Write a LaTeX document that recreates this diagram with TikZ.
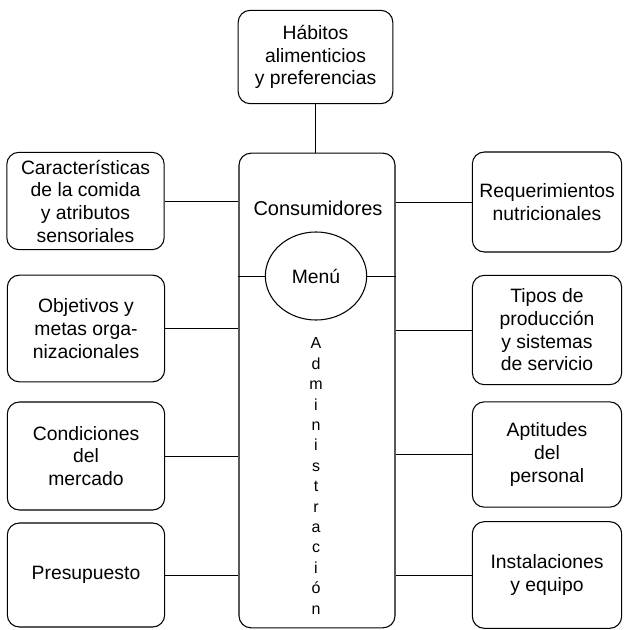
\documentclass[tikz,border=0pt]{standalone}
\usepackage{fontspec}
\setmainfont{Liberation Sans}
\usetikzlibrary{shapes.geometric}

\tikzset{
    caja/.style = {draw, rounded corners=9pt, line width=0.8pt, align=center,
                   inner sep=2pt, font=\fontsize{14.5}{17}\selectfont},
    enlace/.style = {draw, line width=0.7pt}
}

\begin{document}
\begin{tikzpicture}[x=0.75pt,y=-0.75pt]
\useasboundingbox (0,0) rectangle (624,630);

% centro
\node[caja, minimum width=117pt, minimum height=356pt] (admin) at (317,390.5) {};
\node[font=\fontsize{15}{17}\selectfont] (consum) at (318,208) {Consumidores};
\node[draw, ellipse, line width=0.8pt, minimum width=76pt, minimum height=66pt,
      font=\fontsize{14.5}{17}\selectfont] (menu) at (316,276) {Menú};
\node[align=center, font=\fontsize{12}{15.3}\selectfont] (letras) at (316,476)
    {A\\d\\m\\i\\n\\i\\s\\t\\r\\a\\c\\i\\ó\\n};

% arriba
\node[caja, minimum width=116pt, minimum height=70pt] (habitos) at (315.5,57)
    {Hábitos\\alimenticios\\y preferencias};

% izquierda
\node[caja, minimum width=118pt, minimum height=73pt] (caract) at (85.5,201)
    {Características\\de la comida\\y atributos\\sensoriales};
\node[caja, minimum width=118pt, minimum height=80pt] (objet) at (86,328.5)
    {Objetivos y\\metas orga-\\nizacionales};
\node[caja, minimum width=118pt, minimum height=81pt] (mercado) at (86,456)
    {Condiciones\\del\\mercado};
\node[caja, minimum width=118pt, minimum height=78pt] (presup) at (86,575)
    {Presupuesto};

% derecha
\node[caja, minimum width=112pt, minimum height=75pt] (requer) at (547,202)
    {Requerimientos\\nutricionales};
\node[caja, minimum width=112pt, minimum height=82pt] (tipos) at (547,330)
    {Tipos de\\producción\\y sistemas\\de servicio};
\node[caja, minimum width=112pt, minimum height=79pt] (aptit) at (547,454.5)
    {Aptitudes\\del\\personal};
\node[caja, minimum width=112pt, minimum height=80pt] (instal) at (547,575)
    {Instalaciones\\y equipo};

% conectores
\draw[enlace] (habitos.south) -- (habitos.south |- admin.north);
\foreach \n in {caract,objet,mercado,presup}
    \draw[enlace] (\n.east) -- (\n.east -| admin.west);
\foreach \n in {requer,tipos,aptit,instal}
    \draw[enlace] (\n.west) -- (\n.west -| admin.east);
\draw[enlace] (menu.west) -- (menu.west -| admin.west);
\draw[enlace] (menu.east) -- (menu.east -| admin.east);
\end{tikzpicture}
\end{document}
